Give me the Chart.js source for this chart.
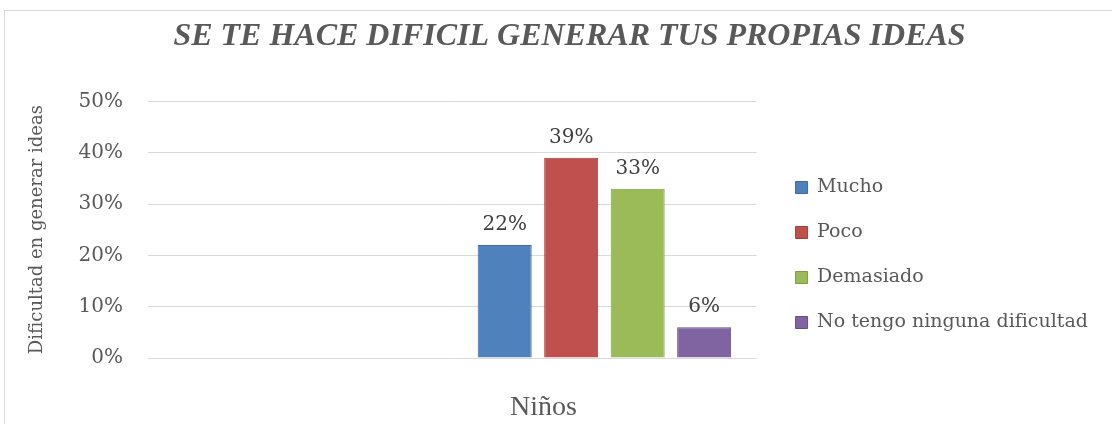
<!DOCTYPE html>
<html lang="es">
<head>
<meta charset="UTF-8">
<title>Se te hace difícil generar tus propias ideas</title>
<script src="https://cdn.jsdelivr.net/npm/chart.js"></script>
<style>
    body { margin: 0; background: #fff; }
    .frame {
        position: absolute;
        left: 4px;
        top: 10px;
        width: 1107px;
        height: 413px;
        border: 1px solid #d9d9d9;
        background: #fff;
    }
    canvas { display: block; }
</style>
</head>
<body>
<div class="frame"><canvas id="chart" width="1107" height="413"></canvas></div>
<script>
// data
const categories = ['', 'Niños'];
const seriesNames = ['Mucho', 'Poco', 'Demasiado', 'No tengo ninguna dificultad'];
const mucho = [null, 22];
const poco = [null, 39];
const demasiado = [null, 33];
const ninguna = [null, 6];
const yMax = 50;
const yStep = 10;

const fills = ['#4f81bd', '#c0504d', '#9bbb59', '#8064a2'];
const edges = ['#3d6aa0', '#a03f3c', '#7f9b45', '#664f86'];
const serif = "'DejaVu Serif', serif";

// measure the widest legend entry so the plot keeps its right edge
const legendFont = 19;
const m = document.createElement('canvas').getContext('2d');
m.font = legendFont + "px 'DejaVu Serif', serif";
const legendTextW = Math.max(...seriesNames.map(n => m.measureText(n).width));
const legendPad = 26;
const legendW = legendPad + 12 + legendFont / 2 + legendTextW + 10;
const padRight = Math.max(0, 1107 - 765 - legendW);

// value labels above the bars
const barLabels = {
    id: 'barLabels',
    afterDatasetsDraw(chart) {
        const ctx = chart.ctx;
        ctx.save();
        ctx.font = "20px 'DejaVu Serif', serif";
        ctx.fillStyle = '#404040';
        ctx.textAlign = 'center';
        ctx.textBaseline = 'alphabetic';
        chart.data.datasets.forEach((ds, i) => {
            chart.getDatasetMeta(i).data.forEach((bar, j) => {
                const v = ds.data[j];
                if (v == null) return;
                ctx.fillText(v + '%', bar.x, bar.y - 15);
            });
        });
        ctx.restore();
    }
};

const values = [mucho, poco, demasiado, ninguna];

new Chart(document.getElementById('chart'), {
    type: 'bar',
    data: {
        labels: categories,
        datasets: values.map((d, i) => ({
            label: seriesNames[i],
            data: d,
            backgroundColor: fills[i],
            borderColor: edges[i],
            borderWidth: 1,
            yAxisID: 'y',
            categoryPercentage: 0.874,
            barPercentage: 0.812
        }))
    },
    options: {
        responsive: false,
        animation: false,
        layout: { padding: { left: 22, top: 0, bottom: 0, right: 0 } },
        plugins: {
            title: {
                display: true,
                text: 'SE TE HACE DIFICIL GENERAR TUS PROPIAS IDEAS',
                color: '#595959',
                font: { family: "'Liberation Serif', serif", size: 32, style: 'italic', weight: 'bold' },
                padding: { top: 7, bottom: 45 }
            },
            legend: {
                position: 'right',
                align: 'end',
                fullSize: false,
                maxWidth: 420,
                labels: {
                    boxWidth: 12,
                    boxHeight: 12,
                    padding: legendPad,
                    color: '#595959',
                    font: { family: serif, size: legendFont }
                }
            },
            tooltip: { enabled: false }
        },
        scales: {
            x: {
                grid: { display: false },
                border: { display: false },
                ticks: {
                    color: '#595959',
                    font: { family: "'Liberation Serif', serif", size: 28 },
                    padding: 25,
                    labelOffset: -61,
                    maxRotation: 0,
                    autoSkip: false
                },
                afterFit: s => { s.height = 66; }
            },
            y: {
                min: 0,
                max: yMax,
                grid: { color: '#d9d9d9', drawTicks: false },
                border: { display: false },
                ticks: {
                    stepSize: yStep,
                    color: '#595959',
                    font: { family: serif, size: 20 },
                    padding: 25,
                    callback: v => v + '%'
                },
                title: {
                    display: true,
                    text: 'Dificultad en generar ideas',
                    color: '#595959',
                    font: { family: serif, size: 18 },
                    padding: { top: 0, bottom: 0 }
                },
                afterFit: s => { s.width = 121; }
            },
            gap: {
                type: 'linear',
                position: 'right',
                display: true,
                grid: { display: false },
                border: { display: false },
                ticks: { display: false },
                afterFit: s => { s.width = 13; }
            },
            edge: {
                type: 'linear',
                position: 'right',
                weight: 2000,
                display: true,
                grid: { display: false },
                border: { display: false },
                ticks: { display: false },
                afterFit: s => { s.width = padRight; }
            }
        }
    },
    plugins: [barLabels]
});
</script>
</body>
</html>
